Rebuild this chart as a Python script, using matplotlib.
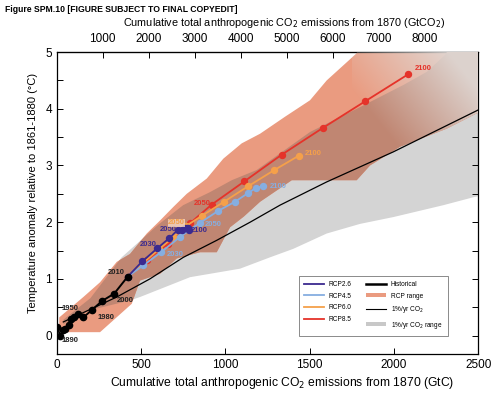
import numpy as np
import matplotlib
matplotlib.use("Agg")
import matplotlib.pyplot as plt
from matplotlib.patches import Polygon, Patch
from matplotlib.lines import Line2D

plt.rcParams["font.family"] = ["Liberation Sans", "DejaVu Sans"]

# historical (decades), cumulative GtC vs temperature anomaly
hist_c = [0, 22, 40, 52, 70, 86, 104, 124, 158, 208, 269, 341, 421]
hist_t = [0.16, 0.0, 0.10, 0.12, 0.19, 0.29, 0.33, 0.38, 0.32, 0.45, 0.61, 0.74, 1.04]

# RCP scenarios 2010..2100 (decadal)
rcp26_c = [421, 508, 597, 668, 717, 745, 760, 770, 778, 783]
rcp26_t = [1.04, 1.31, 1.54, 1.72, 1.86, 1.87, 1.90, 1.90, 1.89, 1.87]
rcp45_c = [421, 514, 619, 731, 850, 958, 1057, 1133, 1179, 1226]
rcp45_t = [1.04, 1.24, 1.47, 1.74, 1.99, 2.20, 2.36, 2.51, 2.60, 2.64]
rcp60_c = [421, 512, 605, 690, 765, 860, 992, 1133, 1291, 1434]
rcp60_t = [1.04, 1.28, 1.52, 1.73, 1.93, 2.11, 2.36, 2.63, 2.92, 3.17]
rcp85_c = [421, 535, 660, 790, 919, 1113, 1334, 1577, 1828, 2085]
rcp85_t = [1.04, 1.33, 1.62, 1.98, 2.31, 2.72, 3.19, 3.66, 4.13, 4.61]

# 1%/yr CO2 mean
pct_c = [39, 356, 553, 751, 949, 1147, 1324, 1601, 1996, 2500]
pct_t = [0.24, 0.68, 1.00, 1.38, 1.68, 2.00, 2.30, 2.71, 3.24, 3.98]

# RCP range outline
rcp_up_c = [15, 158, 257, 356, 435, 534, 613, 692, 771, 890, 988, 1097, 1206, 1354, 1502, 1601, 1779, 1800, 2600]
rcp_up_t = [0.32, 0.68, 0.94, 1.30, 1.44, 1.80, 2.03, 2.27, 2.50, 2.77, 3.12, 3.39, 3.56, 3.86, 4.15, 4.50, 4.98, 5.4, 5.4]
rcp_lo_c = [15, 257, 445, 494, 613, 712, 850, 949, 1028, 1110, 1206, 1394, 1779, 1858, 2036, 2313, 2491, 2600]
rcp_lo_t = [0.06, 0.06, 0.56, 0.97, 1.09, 1.36, 1.47, 1.47, 1.91, 2.10, 2.36, 2.74, 2.74, 3.00, 3.33, 3.65, 3.92, 4.05]

# 1%/yr CO2 range outline
pct_up_c = [40, 200, 385, 600, 750, 909, 1038, 1186, 1502, 1799, 2056, 2194, 2303, 2400, 2600]
pct_up_t = [0.28, 0.66, 1.38, 1.95, 2.30, 2.53, 2.74, 2.92, 3.59, 4.03, 4.42, 4.65, 4.95, 5.4, 5.4]
pct_lo_c = [40, 200, 435, 494, 791, 1087, 1265, 1403, 1601, 1799, 1996, 2293, 2471, 2600]
pct_lo_t = [0.20, 0.45, 0.62, 0.68, 1.03, 1.18, 1.38, 1.53, 1.80, 1.97, 2.09, 2.30, 2.44, 2.52]

c26, c45, c60, c85 = "#3b2a8f", "#86aee0", "#f5a04a", "#e5332a"
salmon, brown, grey = "#ea9b80", "#c08672", "#d4d4d4"

fig = plt.figure(figsize=(5.04, 3.94), dpi=100)
ax = fig.add_axes([0.1125, 0.1008, 0.8365, 0.767])

# ranges
gpoly = np.column_stack([pct_up_c + pct_lo_c[::-1], pct_up_t + pct_lo_t[::-1]])
rpoly = np.column_stack([rcp_up_c + rcp_lo_c[::-1], rcp_up_t + rcp_lo_t[::-1]])
ax.add_patch(Polygon(gpoly, closed=True, fc=grey, ec="none", zorder=1))
rp = Polygon(rpoly, closed=True, fc=salmon, ec="none", zorder=2)
ax.add_patch(rp)
ov = Polygon(gpoly, closed=True, fc=brown, ec="none", zorder=3)
ax.add_patch(ov)
ov.set_clip_path(rp)

# fade toward upper right corner
u = np.linspace(0, 1, 200)[None, :]
v = np.linspace(0, 1, 120)[:, None]
grad = np.zeros((120, 200, 4))
grad[..., 0] = 0.88
grad[..., 1] = 0.86
grad[..., 2] = 0.85
grad[..., 3] = np.clip(0.9 * u + 0.9 * v - 0.55, 0, 0.9)
im = ax.imshow(grad, extent=[1750, 2500, 2.6, 5.4], origin="lower", aspect="auto", zorder=4)
im.set_clip_path(rp)

ax.plot(pct_c, pct_t, color="black", lw=0.9, zorder=5)

ax.plot(hist_c, hist_t, color="black", lw=1.4, marker="o", ms=4.5, zorder=7)
for c, t, col in [(rcp85_c, rcp85_t, c85), (rcp60_c, rcp60_t, c60),
                  (rcp45_c, rcp45_t, c45), (rcp26_c, rcp26_t, c26)]:
    ax.plot(c, t, color=col, lw=1.3, marker="o", ms=4.3, zorder=6)

fs = 5.5
ax.text(30, -0.12, "1890", fontsize=fs, fontweight="bold", color="#222222", zorder=8)
ax.text(30, 0.45, "1950", fontsize=fs, fontweight="bold", color="#222222", zorder=8)
ax.text(240, 0.30, "1980", fontsize=fs, fontweight="bold", color="#222222", zorder=8)
ax.text(357, 0.60, "2000", fontsize=fs, fontweight="bold", color="#222222", zorder=8)
ax.text(305, 1.08, "2010", fontsize=fs, fontweight="bold", color="#222222", zorder=8)
ax.text(493, 1.58, "2030", fontsize=fs, fontweight="bold", color=c26, zorder=8)
ax.text(613, 1.84, "2050", fontsize=fs, fontweight="bold", color=c26, zorder=8)
ax.text(795, 1.82, "2100", fontsize=fs, fontweight="bold", color=c26, zorder=8)
ax.text(652, 1.40, "2030", fontsize=fs, fontweight="bold", color=c45, zorder=8)
ax.text(880, 1.94, "2050", fontsize=fs, fontweight="bold", color=c45, zorder=8)
ax.text(1265, 2.61, "2100", fontsize=fs, fontweight="bold", color=c45, zorder=8)
ax.text(660, 1.96, "2050", fontsize=fs, fontweight="bold", color=c60, zorder=8,
        bbox=dict(fc="#f6d7c4", ec="none", pad=0.3, alpha=0.8))
ax.text(1473, 3.18, "2100", fontsize=fs, fontweight="bold", color=c60, zorder=8)
ax.text(810, 2.30, "2050", fontsize=fs, fontweight="bold", color=c85, zorder=8)
ax.text(2126, 4.68, "2100", fontsize=fs, fontweight="bold", color=c85, zorder=8)

ax.set_xlim(0, 2500)
ax.set_ylim(-0.33, 5)
ax.set_xticks([0, 500, 1000, 1500, 2000, 2500])
ax.set_yticks([0, 1, 2, 3, 4, 5])
ax.set_yticks(np.arange(0, 5, 0.5), minor=True)
ax.tick_params(which="both", direction="in", right=True, labelsize=8.5, width=0.7)
ax.tick_params(which="major", length=4)
ax.tick_params(which="minor", length=4)
for s in ax.spines.values():
    s.set_linewidth(0.9)
ax.set_xlabel("Cumulative total anthropogenic CO$_2$ emissions from 1870 (GtC)", fontsize=8.7, labelpad=3)
ax.xaxis.label.set_x(0.535)
ax.set_ylabel("Temperature anomaly relative to 1861-1880 (°C)", fontsize=8, labelpad=5)
ax.yaxis.label.set_y(0.535)

top = ax.secondary_xaxis("top", functions=(lambda g: g * 44 / 12, lambda c: c * 12 / 44))
top.set_xticks([1000, 2000, 3000, 4000, 5000, 6000, 7000, 8000])
top.tick_params(direction="in", labelsize=8.5, length=4, width=0.7, pad=5)
top.set_xlabel("Cumulative total anthropogenic CO$_2$ emissions from 1870 (GtCO$_2$)", fontsize=7.8, labelpad=5)
top.xaxis.label.set_x(0.54)

handles = [Line2D([], [], color=c26, lw=1.3), Line2D([], [], color=c45, lw=1.3),
           Line2D([], [], color=c60, lw=1.3), Line2D([], [], color=c85, lw=1.3),
           Line2D([], [], color="black", lw=1.8), Patch(fc=salmon, ec="none"),
           Line2D([], [], color="black", lw=0.8), Patch(fc="#c8c8c8", ec="none")]
labels = ["RCP2.6", "RCP4.5", "RCP6.0", "RCP8.5", "Historical", "RCP range",
          "1%/yr CO$_2$", "1%/yr CO$_2$ range"]
leg = ax.legend(handles, labels, ncol=2, fontsize=4.7, loc="lower right",
                bbox_to_anchor=(0.935, 0.05), frameon=True, fancybox=False,
                edgecolor="#555555", handlelength=3, handleheight=0.6,
                columnspacing=2.2, borderpad=0.8, labelspacing=0.7)
leg.get_frame().set_linewidth(0.6)

fig.text(0.01, 0.975, "Figure SPM.10 [FIGURE SUBJECT TO FINAL COPYEDIT]", fontsize=6.2,
         fontweight="bold", va="center")

fig.savefig("out.png", dpi=100)
